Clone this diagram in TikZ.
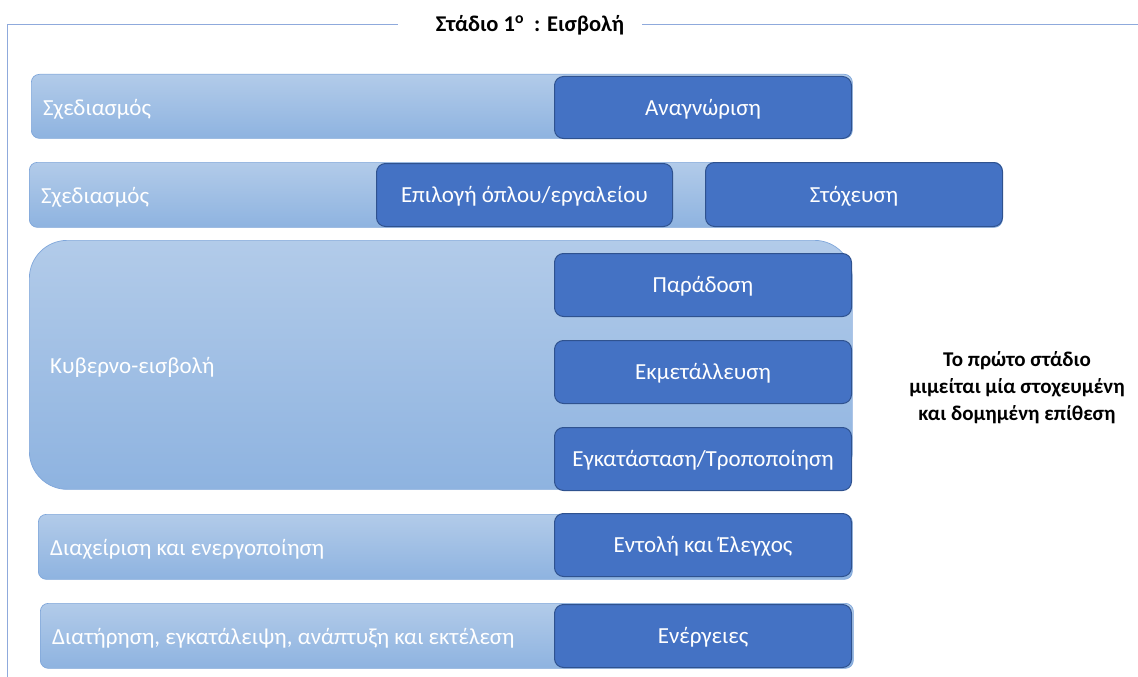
\documentclass[tikz,border=0pt]{standalone}
\usepackage{fontspec}
\setmainfont{Carlito}
\definecolor{bartop}{HTML}{B2CBE9}
\definecolor{barbottom}{HTML}{8EB3E0}
\definecolor{barline}{HTML}{7FA6DA}
\definecolor{boxfill}{HTML}{4472C4}
\definecolor{boxline}{HTML}{2F528F}
\definecolor{frameline}{HTML}{8FAADC}
\tikzset{
  lightbar/.style={draw=barline, line width=0.7pt, top color=bartop, bottom color=barbottom,
    rounded corners=8pt, anchor=north west, inner sep=0pt},
  bartext/.style={anchor=west, text=white, inner sep=0pt, yshift=-2.5pt, font=\fontsize{23}{27}\selectfont},
  darkbox/.style={draw=boxline, line width=1pt, fill=boxfill, rounded corners=9pt,
    anchor=north west, inner sep=0pt, text=white, text height=18pt, text depth=3pt,
    font=\fontsize{23}{27}\selectfont},
  frame/.style={draw=frameline, line width=0.8pt},
}
\begin{document}
\begin{tikzpicture}[x=1pt,y=-1pt]
\useasboundingbox (0,0) rectangle (1138,677);

% outer frame with title
\node[font=\bfseries\fontsize{22.5}{26}\selectfont, inner sep=0pt] (title) at (530,25) {Στάδιο 1\textsuperscript{ο}\ \ : Εισβολή};
\coordinate (tl) at (7,24);
\coordinate (bl) at (7,677);
\coordinate (tr) at (1138,24);
\draw[frame] ([xshift=-38pt]title.west |- tl) -- (tl) -- (bl);
\draw[frame] ([xshift=18pt]title.east |- tr) -- (tr);

% row 1
\node[lightbar, minimum width=821pt, minimum height=64pt] (plan1) at (31,74) {};
\node[bartext] at ([xshift=12pt]plan1.west) {Σχεδιασμός};
\node[darkbox, minimum width=297pt, minimum height=62pt] (recon) at (554,76) {Αναγνώριση};

% row 2
\node[lightbar, minimum width=973pt, minimum height=65pt] (plan2) at (29,162) {};
\node[bartext] at ([xshift=12pt]plan2.west) {Σχεδιασμός};
\node[darkbox, minimum width=296pt, minimum height=63pt] (weapon) at (376,163) {Επιλογή όπλου/εργαλείου};
\node[darkbox, minimum width=297pt, minimum height=64pt] (target) at (705,162) {Στόχευση};

% row 3
\node[lightbar, rounded corners=38pt, minimum width=823pt, minimum height=249pt] (intr) at (29,240) {};
\node[bartext] at ([xshift=21pt]intr.west) {Κυβερνο-εισβολή};
\node[darkbox, minimum width=297pt, minimum height=63pt] (deliv) at (554,253) {Παράδοση};
\node[darkbox, minimum width=297pt, minimum height=63pt] (exploit) at (554,340) {Εκμετάλλευση};
\node[darkbox, minimum width=297pt, minimum height=63pt] (install) at (554,427) {Εγκατάσταση/Τροποποίηση};

% row 4
\node[lightbar, minimum width=814pt, minimum height=65pt] (manage) at (38,514) {};
\node[bartext] at ([xshift=12pt]manage.west) {Διαχείριση και ενεργοποίηση};
\node[darkbox, minimum width=297pt, minimum height=63pt] (cc) at (554,513) {Εντολή και Έλεγχος};

% row 5
\node[lightbar, minimum width=813pt, minimum height=65pt] (maintain) at (40,603) {};
\node[bartext] at ([xshift=12pt]maintain.west) {Διατήρηση, εγκατάλειψη, ανάπτυξη και εκτέλεση};
\node[darkbox, minimum width=297pt, minimum height=63pt] (actions) at (554,604) {Ενέργειες};

% side note
\node[align=center, font=\bfseries\fontsize{21}{27}\selectfont, inner sep=0pt] (note) at (1017,388)
  {Το πρώτο στάδιο\\μιμείται μία στοχευμένη\\και δομημένη επίθεση};
\end{tikzpicture}
\end{document}
